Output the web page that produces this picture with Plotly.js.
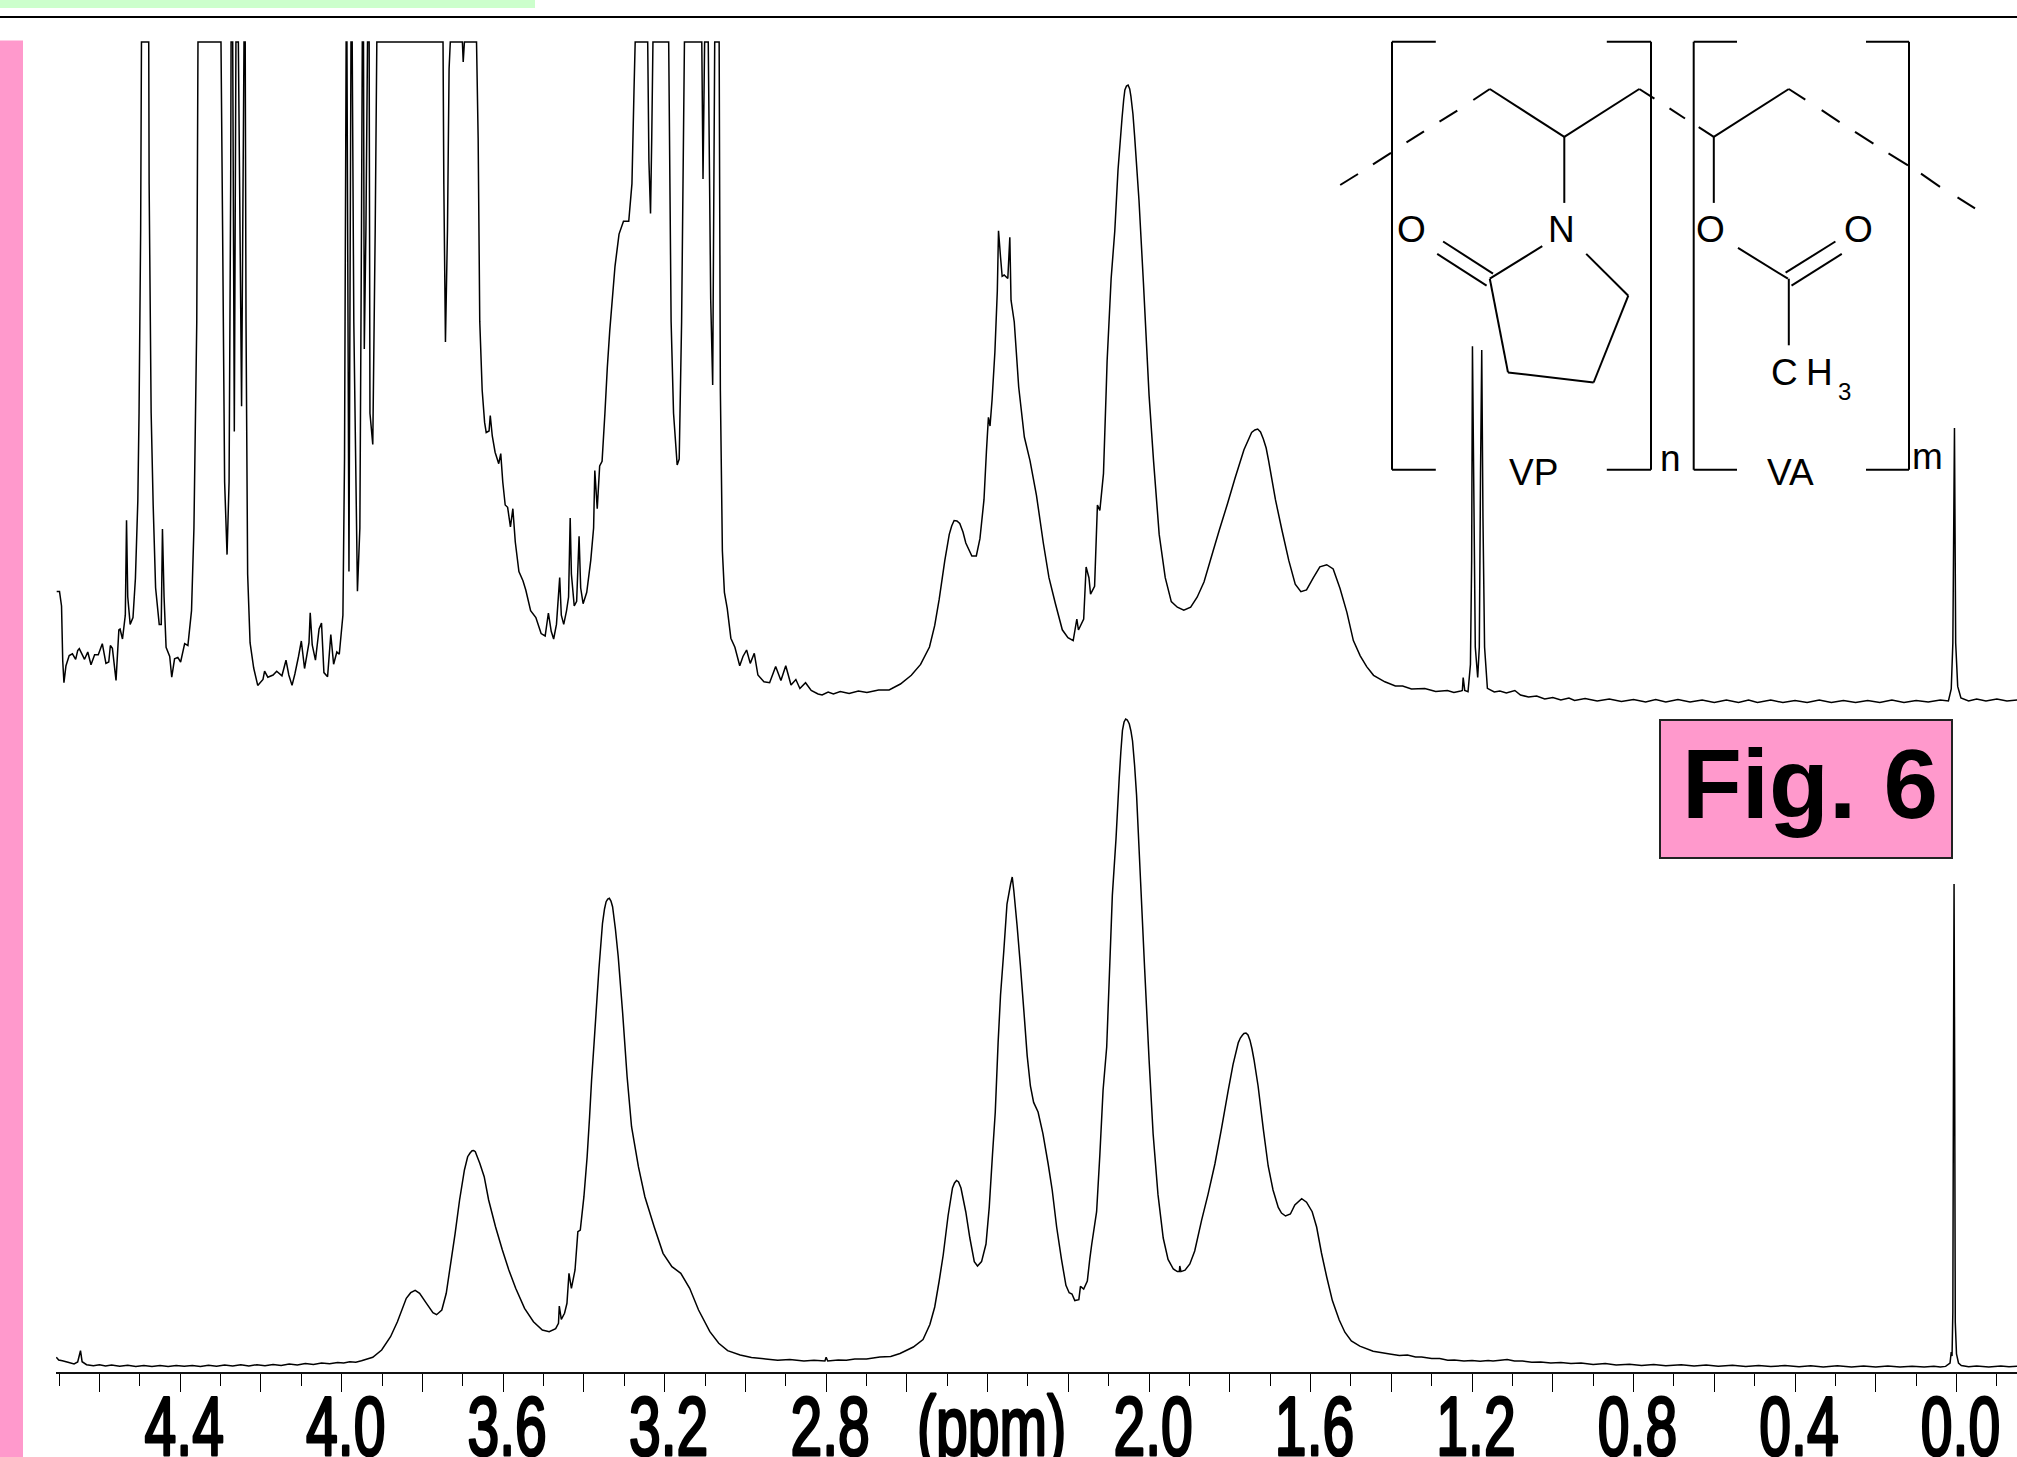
<!DOCTYPE html>
<html><head><meta charset="utf-8">
<script src="https://cdn.plot.ly/plotly-3.0.1.min.js"></script>
<style>
html,body{margin:0;padding:0;background:#fff;overflow:hidden}
.xtick text{stroke:#000;stroke-width:3px;stroke-linejoin:round}
</style></head><body><div id="chart" style="width:2017px;height:1457px"></div>
<script>
// Lower spectrum (chemical shift in ppm, intensity in arbitrary units)
const lowerPpm=[4.707,4.701,4.692,4.678,4.663,4.654,4.647,4.643,4.632,
4.615,4.6,4.585,4.57,4.55,4.53,4.51,4.49,4.47,4.45,4.43,4.41,4.39,4.37,4.35,4.33,4.31,4.29,4.27,4.25,4.23,4.21,4.19,4.17,4.15,4.13,4.11,4.09,4.07,4.05,4.03,4.01,3.995,3.98,3.965,
3.951,3.923,3.901,3.879,3.862,3.84,3.829,3.818,3.807,3.79,3.774,3.765,3.752,3.741,3.73,3.719,3.708,3.696,
3.688,3.682,3.677,3.673,3.669,3.664,3.658,
3.647,3.636,3.619,3.602,3.586,3.569,3.547,3.525,3.503,3.486,3.47,3.463,3.461,3.456,3.448,3.442,3.437,3.431,3.422,3.415,3.409,3.4,3.392,3.386,3.381,3.375,3.37,3.363,
3.354,3.349,3.345,3.341,3.337,3.333,3.329,3.322,3.315,
3.304,3.293,3.282,3.265,3.249,3.226,3.204,3.182,3.16,3.138,3.116,3.088,3.066,3.044,
3.013,2.985,2.95,2.92,2.89,2.855,2.83,2.803,2.8,2.796,2.77,2.75,2.729,2.7,2.667,2.64,2.617,
2.584,2.56,2.543,2.531,2.52,2.51,2.498,
2.487,2.482,2.477,2.472,2.466,
2.454,2.444,2.433,2.425,2.415,2.404,2.396,2.388,2.381,2.374,2.368,2.36,2.352,2.343,2.339,2.335,2.327,2.319,2.31,2.302,2.294,2.286,2.275,2.263,2.25,2.24,2.229,2.217,2.206,2.198,2.191,2.184,2.174,2.17,2.162,2.153,2.147,2.142,2.13,2.122,2.114,2.105,2.099,2.091,2.082,
2.074,2.07,2.066,2.062,2.058,2.054,2.049,2.045,2.041,2.036,2.031,
2.021,2.011,2,1.99,1.978,1.965,1.953,1.94,1.93,1.925,1.924,1.921,1.911,1.899,1.887,1.87,1.854,1.837,1.821,1.804,1.792,
1.779,1.774,1.769,1.765,1.76,1.755,1.75,1.745,1.74,
1.73,1.717,1.705,1.693,1.68,1.672,1.662,1.65,1.639,1.622,1.61,1.596,1.585,1.573,1.56,1.546,1.529,1.515,1.499,1.478,1.445,
1.404,1.38,1.36,1.34,1.325,1.3,1.28,1.26,1.244,1.22,1.2,1.18,1.16,1.148,1.13,1.113,1.095,1.075,1.052,1.03,1.005,0.98,0.955,0.93,0.9,0.87,0.843,0.81,0.78,0.75,0.72,0.682,0.65,0.62,0.59,0.555,0.522,0.49,0.46,0.425,0.39,0.361,0.33,0.295,0.26,0.23,0.2,0.17,0.14,0.11,0.08,0.056,0.04,0.027,
0.016,0.013,0.011,0.009,0.0075,0.006,0.0045,0.003,0,-0.005,
-0.012,-0.03,-0.05,-0.08,-0.11,-0.13,-0.15];
const lowerInt=[14.7,12,11.3,9.7,8,10,21.3,10.3,7.3,
6.2,7.2,6,7,5.8,6.8,5.6,6.6,5.5,6.6,5.6,6.6,5.7,6.6,5.6,6.8,5.7,6.9,5.9,7.2,6,7.3,6.2,7.6,6.6,7.9,7,8.4,7.6,9,8.2,9.6,9,10.2,9.8,
11.3,14.7,22,35.3,50.3,73.7,79.3,81.7,78.7,68.7,59.3,57.3,62,78.7,108.7,138.7,172,202,
215.3,219,221.3,221.5,220.3,215,208.7,
195.3,172,145.3,122,102,83.7,63.7,50.3,42,40.3,43.3,48.7,66,52.7,58.7,68.7,98.7,83.7,102,140.3,142,175.3,215.3,255,292,328,358.7,402,
448.7,463,470.3,473,473.7,471,465.3,443,415.3,
358.7,295.3,245.3,205.3,175.3,145.3,118.7,105.3,98.7,83.7,62,40.3,28.7,21.3,
17,14.6,13,11.8,12.4,11,11.8,11,14.7,11,12,11.8,13,13,15,15.6,18.5,
25,32.4,47.5,65,91,117,156,
184,189,191.5,190,184,
160,134,110.4,106,110.4,128,164.6,217,260,329.4,377,420.5,468,488,495,481,446.5,407.5,360,316.4,286,269.6,260,238.4,208,182,145,112.6,86.6,79.2,78,71.4,72.3,85.7,83,91,112.6,128,160.3,217,281.7,325,390,476.9,533,
594,620,641.6,650,653,652,648,641,631,607,576.6,
490,403,312,238,177.6,134,112.6,103,100.4,100.4,106,100.4,101.8,108,121,151.6,177.6,208,242.7,281.7,307.7,
329.4,334,336.8,338.5,339,337,331.6,323,312,
286,242.7,206,182,164.6,159,156,158,167,173.3,169.8,160.3,145,119,95,71.4,52,39.8,31,25.9,20.7,
18,16.6,17,15,15,13.4,13.6,11.8,12,10.9,11.6,10.8,11.6,11,11.8,12.6,10.9,11,9.7,10,9,9.4,8.4,9,7.6,8.4,7,7.8,6.6,7.6,6.3,7.2,6,6.9,5.8,6.7,5.6,6.5,5.4,6.4,5.3,6.2,5.1,6.2,5,6,5,5.9,4.9,5.8,4.9,5.7,5,5.6,
9,20,16,60,300,488,300,50,18,9,
6.5,5.2,6,5.1,6,5.2,5.8];
// Upper spectrum (vertically expanded; saturated peaks are flat at the top)
const upperPpm=[4.706,4.699,4.694,4.691,4.688,4.683,4.675,4.667,4.659,4.654,4.65,4.637,4.629,4.621,4.612,4.603,4.593,4.584,4.577,4.573,4.568,4.559,4.552,4.549,4.543,4.536,4.533,4.53,4.524,4.517,4.511,4.505,4.502,4.498,4.496,4.478,4.477,4.472,4.467,4.461,4.452,4.447,4.444,4.44,4.435,4.426,4.421,4.414,4.406,4.399,4.389,4.381,4.372,4.366,4.359,4.356,4.299,4.295,4.29,4.284,4.279,4.275,4.274,4.27,4.266,4.262,4.256,4.248,4.242,4.239,4.237,4.233,4.227,4.218,4.208,4.195,4.191,4.183,4.17,4.161,4.148,4.138,4.131,4.123,4.116,4.107,4.1,4.092,4.081,4.078,4.073,4.065,4.056,4.05,4.044,4.035,4.027,4.02,4.012,4.006,3.997,3.993,3.989,3.987,3.982,3.977,3.974,3.97,3.961,3.955,3.951,3.949,3.946,3.944,3.94,3.936,3.932,3.93,3.923,3.917,3.913,3.749,3.747,3.743,3.738,3.734,3.731,3.701,3.699,3.696,3.666,3.662,3.658,3.652,3.646,3.642,3.635,3.632,3.627,3.62,3.611,3.606,3.601,3.595,3.589,3.582,3.576,3.57,3.561,3.551,3.544,3.532,3.519,3.506,3.496,3.488,3.481,3.475,3.468,3.46,3.456,3.45,3.443,3.438,3.434,3.431,3.424,3.418,3.412,3.408,3.402,3.393,3.383,3.376,3.373,3.367,3.361,3.355,3.348,3.342,3.336,3.323,3.313,3.302,3.289,3.281,3.276,3.273,3.242,3.239,3.235,3.232,3.229,3.19,3.184,3.178,3.169,3.164,3.158,3.151,3.108,3.105,3.101,3.092,3.086,3.081,3.076,3.065,3.062,3.057,3.052,3.045,3.036,3.026,3.014,3.006,2.997,2.988,2.978,2.969,2.954,2.94,2.925,2.912,2.9,2.887,2.875,2.865,2.851,
2.837,2.82,2.81,2.795,2.782,2.765,2.743,2.72,2.699,2.67,2.644,
2.616,2.589,2.566,2.544,2.531,2.52,2.506,
2.495,2.489,2.483,2.476,2.469,2.461,2.454,
2.439,2.428,2.419,2.409,2.403,2.398,2.394,2.389,2.382,2.376,2.373,2.368,2.364,2.359,2.35,2.345,2.342,2.334,2.323,2.309,2.295,2.279,2.262,2.248,2.232,2.215,2.201,2.188,2.179,2.175,2.162,2.156,2.149,2.145,2.135,2.128,2.122,2.113,2.106,2.104,2.094,2.085,2.077,
2.067,2.063,2.06,2.056,2.052,2.048,2.045,2.04,2.036,
2.025,2.014,2,1.989,1.975,1.96,1.945,1.93,1.914,1.897,1.881,1.864,1.842,1.826,1.806,1.787,1.765,
1.746,1.738,1.731,1.724,1.717,1.71,1.704,
1.687,1.671,1.654,1.638,1.624,1.61,1.593,1.577,1.56,1.544,1.527,1.51,1.494,1.477,1.461,1.444,
1.416,1.39,1.372,1.35,1.317,1.29,1.261,1.245,1.228,
1.224,1.222,1.218,1.21,1.204,1.201,1.199,1.195,1.192,1.186,1.182,1.179,1.176,1.173,1.169,
1.162,1.145,1.131,1.115,1.094,1.08,1.06,1.04,1.02,1,0.98,0.96,0.946,0.92,0.89,0.86,0.83,0.8,0.77,0.745,0.72,0.69,0.66,0.63,0.6,0.57,0.54,0.515,0.493,0.46,0.43,0.4,0.37,0.34,0.31,0.28,0.25,0.22,0.19,0.16,0.13,0.1,0.07,0.04,0.02,
0.013,0.009,0.005,0.002,-0.003,-0.011,-0.03,-0.05,-0.073,-0.1,-0.125,-0.15];
const upperInt=[780.6,780.6,766,711,689.3,706.3,716.4,718.2,712.7,721.4,723.3,712.7,720,707.2,717.3,717.3,728.3,708.6,710,726.5,723.7,691.6,742.1,743,733,756.8,851.8,775.2,747.6,754.5,793.5,871.6,958.8,1142.4,1330,1330,1188,959,867,784.3,747.6,747.6,843,775,724.7,715.5,694.8,713.2,714.6,710,728.3,726.5,761.4,844,1050.6,1330,1330,1142,890,817.4,890,1188,1330,1330,940.4,1330,1330,965.7,1330,1330,1050.6,798,729.3,704,686.6,692.5,700.8,694.8,697,700.8,696.2,711.8,697,686.6,698,715.5,731,703.5,729.3,759.1,727,711.8,743,749,699.4,695.3,737.5,707.7,720,717.8,756.8,913,1330,1330,800.4,1330,1330,1050,780.7,844,1142,1330,1330,1023,1142,1330,1330,958.8,927.6,1142,1330,1330,1188,1030,1142,1303,1330,1330,1310,1330,1330,1234,1050.6,981.8,949.6,939.5,941,956.5,936,919.8,908.3,918.4,890,867,864.7,845,863.3,830,800.4,791.2,782,761.4,754.5,738.4,736,759,740.7,733,747.6,794.4,756.8,747.6,761.4,775,854,798,766,770.6,835.8,784,768.3,779.7,811.9,844,901.4,863.3,906,910.6,958.8,1004.7,1041.4,1105.7,1137.9,1150.7,1150.7,1188.4,1280,1330,1330,1211,1158.5,1234,1330,1330,1050.6,958.8,907,913,1050.6,1330,1330,1193,1330,1330,1073.6,987,1330,1330,981.8,821,779.7,763.7,733.8,724.7,706.3,715.5,722,708.6,718.7,697,690.2,689.3,705.4,691.6,706.3,687,692.5,683.5,689.3,
681.5,678,677,680,678,680.5,678.5,681,679.5,682,682,
688,696.7,707.6,725,746.6,772.6,811.6,
837.6,846,851.5,851,848.5,840,829,
816,816,833.3,872.3,920,954.7,946,972,1019.8,1080.5,1141.2,1115,1095.7,1097,1093.5,1134.7,1071.8,1050,985,935,911.4,876.7,829,794.3,768.3,742.2,734.4,731.4,753,742,753,805,794.3,777.8,785.6,867,861.5,898.4,985,1011,1093.5,1141,1202,
1254,1272,1282,1286,1287,1283,1275.6,1258,1236.6,
1171.5,1089,976.4,911.4,837.6,794.3,770.4,764.8,761.8,764.8,774.8,790,820.3,842,868,894,922.2,
939.6,942,943,940,933,924,911.4,
872.3,842,811.6,787.8,780.4,782.1,794.3,805.1,807.3,803,783.4,759.6,731.4,716.2,705.4,696.7,
690.2,686,686,683,683.5,680.5,681.5,679.5,681,
681.5,694.5,681.5,680.2,707.5,811.6,1025.8,855,725,694.5,725,898.4,1022,855,725,
683.7,680,681,679,681.5,677,675,676,673,674.5,672,674,671.5,673.5,671,673,670.5,672.5,670,672.5,670,672.5,670,672,669.5,672,669.5,672,669.5,672,669.5,671.5,669.5,672,669.5,671.5,669.5,671.5,669.5,672,669.5,671.5,670,672,671,
683,729,944,729,685.6,674,671,673,671,673,671,672];
// Axis ticks
const majorTicks=[4.6,4.4,4.2,4.0,3.8,3.6,3.4,3.2,3.0,2.8,2.6,2.4,2.2,2.0,1.8,1.6,1.4,1.2,1.0,0.8,0.6,0.4,0.2,0.0];
const majorLabels=['','4.4','','4.0','','3.6','','3.2','','2.8','','(ppm)','','2.0','','1.6','','1.2','','0.8','','0.4','','0.0'];
const minorTicks=[4.7,4.5,4.3,4.1,3.9,3.7,3.5,3.3,3.1,2.9,2.7,2.5,2.3,2.1,1.9,1.7,1.5,1.3,1.1,0.9,0.7,0.5,0.3,0.1,-0.1];

const W=2017,PH=1372;
const px=x=>x/W, py=y=>1-y/PH;
const seg=(x0,y0,x1,y1,w,c)=>({type:'line',xref:'paper',yref:'paper',x0:px(x0),y0:py(y0),x1:px(x1),y1:py(y1),line:{color:c||'#000',width:w||2},layer:'above'});
const rect=(x0,y0,x1,y1,fill,lc,lw)=>({type:'rect',xref:'paper',yref:'paper',x0:px(x0),y0:py(y0),x1:px(x1),y1:py(y1),fillcolor:fill,line:{color:lc||fill,width:lw||0},layer:'below'});
// Inset: copolymer structure, page-pixel polylines
const structure=[
 [[1340.2,185],[1358,174]],[[1373,164.4],[1391,152.9]],[[1406.5,142.3],[1424,131.3]],[[1439.5,121.7],[1457.3,110.7]],
 [[1473.3,100],[1489.8,89],[1564.3,136.8],[1639.3,89],[1654.4,98.7]],[[1669.5,108.4],[1685,118.5]],
 [[1698.7,127.2],[1713.8,136.8],[1788.8,89],[1805.3,99.6]],[[1821.7,110.2],[1839.6,122.1]],[[1855,131.8],[1873.4,143.7]],
 [[1888.5,153.4],[1908,165.3]],[[1921,173.6],[1940,186.9]],[[1957.5,197.4],[1975,208.4]],
 [[1564.3,136.8],[1564.3,202.9]],[[1713.8,136.8],[1713.8,202.9]],
 [[1542.3,246.1],[1489.8,278.7],[1508,372.4],[1593.6,382.5],[1628.3,295.7],[1586.2,253.9]],
 [[1443.1,241.5],[1493,273.6]],[[1437.2,253.9],[1486.6,285.6]],
 [[1738,247.9],[1787.9,278.7]],[[1785.6,272.7],[1835.4,241.5]],[[1791.5,285.6],[1841.8,253.9]],[[1788.8,278.7],[1788.8,345.3]],
 [[1435.8,41.8],[1392,41.8],[1392,469.7],[1435.8,469.7]],[[1606.8,41.8],[1651,41.8],[1651,469.7],[1606.8,469.7]],
 [[1737,41.8],[1693.7,41.8],[1693.7,469.7],[1737,469.7]],[[1866,41.8],[1909,41.8],[1909,469.7],[1866,469.7]]
];
const shapes=[rect(0,40.5,23,1457,'#FF99CC'),rect(0,0,535,8,'#CCFFCC'),seg(0,17,2017,17,2,'#000'),
 Object.assign(rect(1660,720,1952,858,'#FF99CC','#222',2),{layer:'above'})];
structure.forEach(p=>{for(let i=0;i<p.length-1;i++)shapes.push(seg(p[i][0],p[i][1],p[i+1][0],p[i+1][1],2));});
const lab=(t,x,y,s,b)=>({text:t,xref:'paper',yref:'paper',x:px(x),y:py(y),xanchor:'center',yanchor:'middle',showarrow:false,font:{family:'Liberation Sans, Arial, sans-serif',size:s,color:'#000',weight:b?700:400}});
const annotations=[lab('O',1411.6,229.6,37),lab('N',1561.5,229.6,37),lab('O',1710,229.6,37),lab('O',1858.8,229.6,37),
 lab('C',1784.7,372.6,37),lab('H',1819,372.6,37),lab('3',1844,391.6,24),lab('VP',1533,472.5,37),lab('VA',1790.6,472.5,37),
 lab('n',1670.8,458.5,37),lab('m',1927.3,456.5,37),lab('Fig. 6',1809.5,784,98,true)];

const line={color:'#000',width:1.5,simplify:false};
Plotly.newPlot('chart',[
 {x:upperPpm,y:upperInt,mode:'lines',line,name:'upper',hoverinfo:'skip'},
 {x:lowerPpm,y:lowerInt,mode:'lines',line,name:'lower',hoverinfo:'skip'}
],{
 width:W,height:1457,margin:{l:0,r:0,t:0,b:85,pad:0},paper_bgcolor:'#fff',plot_bgcolor:'rgba(0,0,0,0)',showlegend:false,
 xaxis:{domain:[56/W,1],range:[4.7077,-0.1499],autorange:false,showgrid:false,zeroline:false,showline:true,linecolor:'#111',linewidth:2,
  ticks:'outside',ticklen:18,tickwidth:1,tickcolor:'#000',tickmode:'array',tickvals:majorTicks,ticktext:majorLabels,ticklabelshift:-4,ticklabelstandoff:-38,ticklabeloverflow:'allow',
  tickangle:0,automargin:false,tickfont:{family:'Liberation Sans, sans-serif',size:84,color:'#000'},
  minor:{tickmode:'array',tickvals:minorTicks,ticks:'outside',ticklen:12,tickwidth:1,tickcolor:'#000',showgrid:false}},
 yaxis:{domain:[0,1],range:[0,1372],autorange:false,visible:false,showgrid:false,zeroline:false,fixedrange:true},
 shapes,annotations
},{staticPlot:true,displayModeBar:false}).then(()=>{
 // the tick labels of the original are a tall, narrow face: condense them horizontally
 document.querySelectorAll('.xtick text').forEach(el=>{
  const b=el.getBBox(), cx=b.x+b.width/2, t=el.getAttribute('transform')||'';
  el.setAttribute('transform',t+` translate(${cx},0) scale(0.68,1) translate(${-cx},0)`);
 });
});
</script></body></html>
